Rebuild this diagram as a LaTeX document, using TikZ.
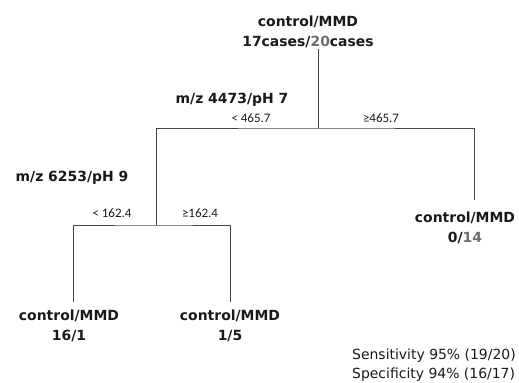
\documentclass[tikz,border=0pt]{standalone}
\usepackage{fontspec}
\usepackage{tikz}
\setmainfont{DejaVu Sans}
\newfontfamily\labelfont{Carlito}
\definecolor{linegray}{RGB}{70, 70, 70}
\definecolor{countgray}{RGB}{110, 110, 110}
\definecolor{darktext}{RGB}{25, 25, 25}
\tikzset{
  leafnode/.style={text=darktext, align=center, inner sep=1pt, font=\bfseries\fontsize{14}{20}\selectfont},
  splitnode/.style={text=darktext, inner sep=1pt, font=\bfseries\fontsize{14}{17}\selectfont},
  condnode/.style={text=darktext, inner sep=1pt, font=\labelfont\fontsize{13}{14}\selectfont},
  branch/.style={linegray, line width=0.8pt}
}

\begin{document}
\begin{tikzpicture}[x=1bp, y=-1bp]
					\useasboundingbox (0,0) rectangle (519,382);
					\node[leafnode] (root) at (308,32) {control/MMD\\17cases/{\color{countgray}20}cases};
					\node[leafnode] (leafA) at (69,326) {control/MMD\\16/1};
					\node[leafnode] (leafB) at (230,326) {control/MMD\\1/5};
					\node[leafnode] (leafC) at (465,228) {control/MMD\\0/{\color{countgray}14}};
					\coordinate (top) at (318,128);
					\coordinate (mid) at (156,225);
					\coordinate (endA) at (73,302);
					\coordinate (endB) at (230,302);
					\coordinate (endC) at (474,200);
					\draw[branch] (root.south -| top) -- (top);
					\draw[branch] (mid) |- (top) -| (endC);
					\draw[branch] (endA) |- (mid) -| (endB);
					\node[splitnode] (splitTop) at (232,100) {m/z 4473/pH 7};
					\node[splitnode] (splitMid) at (72,178) {m/z 6253/pH 9};
					\node[condnode] (ltTop) at (251,118) {< 465.7};
					\node[condnode] (geTop) at (381,118) {≥465.7};
					\node[condnode] (ltMid) at (112,213) {< 162.4};
					\node[condnode] (geMid) at (200,213) {≥162.4};
					\node[text=darktext, anchor=west, align=left, inner sep=0pt, font=\fontsize{14}{19}\selectfont] (stats) at (352,365) {Sensitivity 95\% (19/20)\\Specificity 94\% (16/17)};
				\end{tikzpicture}
\end{document}
